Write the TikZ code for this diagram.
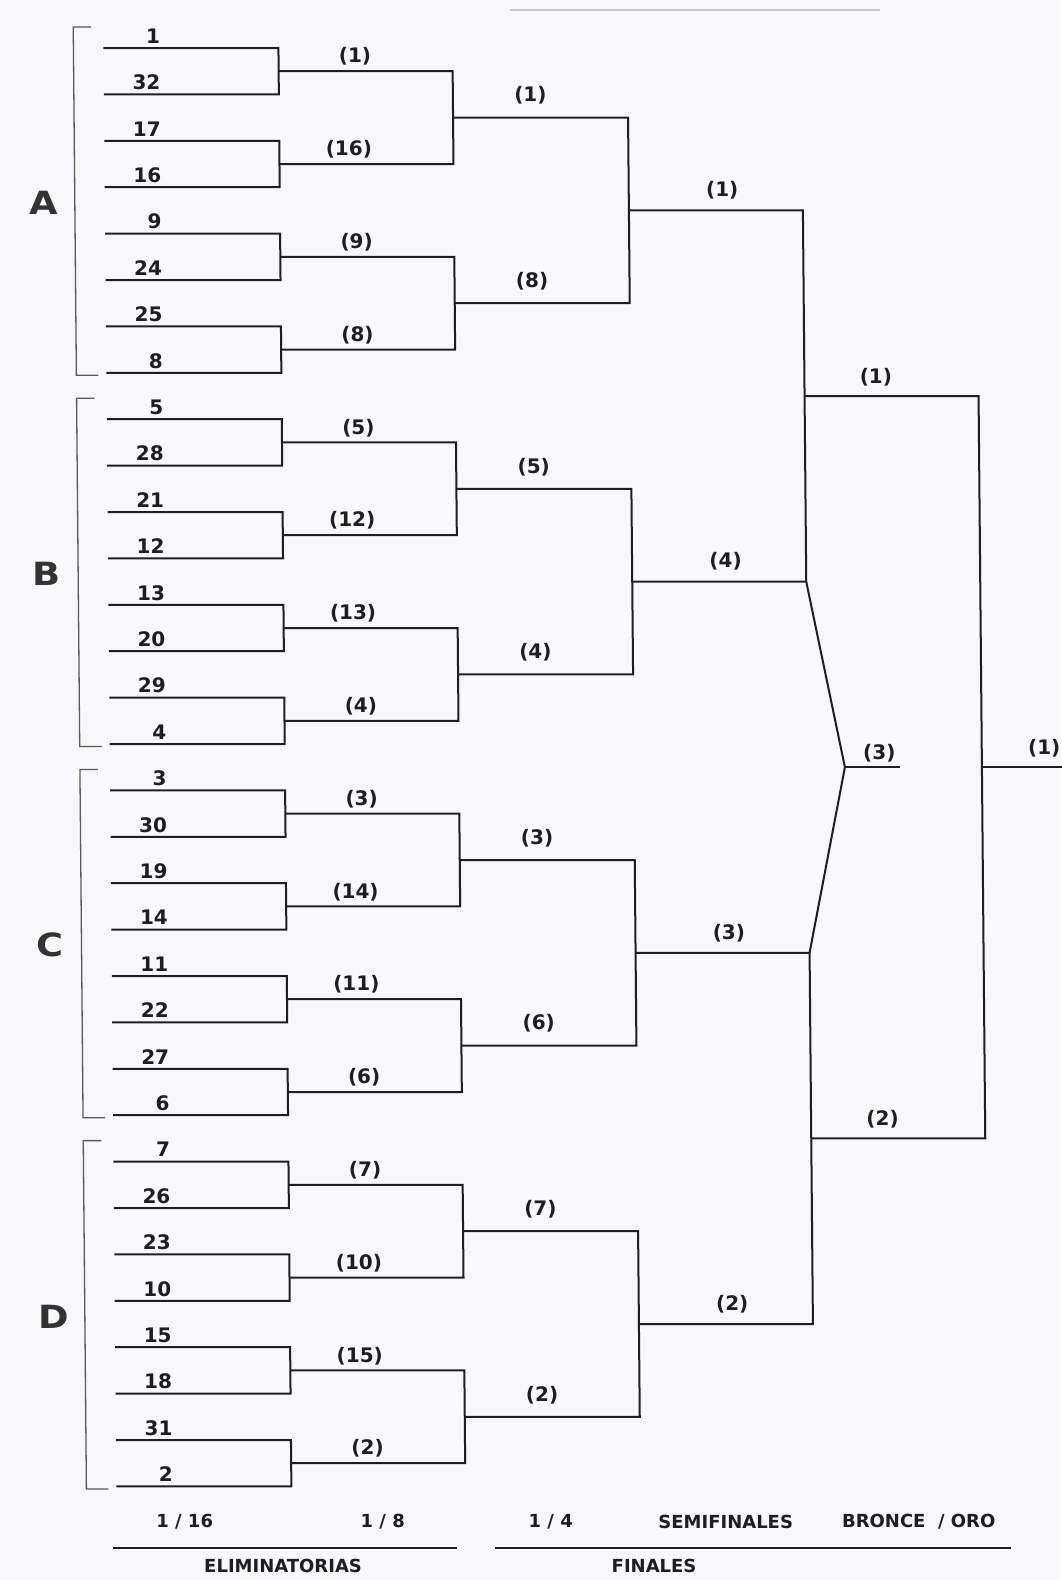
\documentclass[tikz,border=0pt]{standalone}
\usepackage{fontspec}
\setmainfont{DejaVu Sans}
\usepackage{tikz}
\definecolor{paper}{RGB}{248,248,250}
\definecolor{ink}{RGB}{30,30,32}

\begin{document}
\begin{tikzpicture}[x=0.5pt, y=-0.5pt,
    line/.style={line width=1pt, draw=ink},
    grpline/.style={line width=0.65pt, draw=black!65},
    num/.style={font=\bfseries\fontsize{10}{11}\selectfont, text=ink, anchor=east, inner sep=0pt},
    grp/.style={font=\bfseries\fontsize{16}{18}\selectfont, text=black!80, inner sep=0pt},
    foot/.style={font=\bfseries\fontsize{9}{10}\selectfont, text=ink, inner sep=0pt}]
  \path[use as bounding box, fill=paper] (0,0) rectangle (1061,1580);
  \draw[black!22, line width=0.8pt] (510,10) -- (880,10);
  \begin{scope}[xslant=-0.009]
    \foreach \g [count=\k from 0] in {A,B,C,D} {
      \pgfmathsetmacro{\yt}{48+46.4*8*\k-21}
      \pgfmathsetmacro{\yb}{48+46.4*(8*\k+7)+2.5}
      \pgfmathsetmacro{\ym}{48+46.4*(8*\k+3.5)-7.5}
      \coordinate (gt\g) at (73,\yt);
      \coordinate (gb\g) at (73,\yb);
      \draw[grpline] (gt\g) ++(18,0) -- (gt\g) -- (gb\g) -- ++(22,0);
      \node[grp] (g\g) at (41.5,\ym) {\scalebox{1.15}[1]{\g}};
    }
    \foreach \p [count=\i from 0] in {1,32,17,16,9,24,25,8,5,28,21,12,13,20,29,4,3,30,19,14,11,22,27,6,7,26,23,10,15,18,31,2} {
      \pgfmathsetmacro{\y}{48+46.4*\i}
      \coordinate (p\i) at (103,\y);
      \node[num] (n\i) at (160,\y-12) {\p};
    }
    \foreach \w [count=\k from 0] in {1,16,9,8,5,12,13,4,3,14,11,6,7,10,15,2} {
      \pgfmathtruncatemacro{\ia}{2*\k}
      \pgfmathtruncatemacro{\ib}{2*\k+1}
      \pgfmathsetmacro{\y}{48+46.4*(2*\k+0.5)}
      \coordinate (a\k) at (278,\y);
      \draw[line] (p\ia) -| (a\k) |- (p\ib);
      \node[num] (ra\k) at (371,\y-14.5) {(\w)};
    }
    \foreach \w [count=\k from 0] in {1,8,5,4,3,6,7,2} {
      \pgfmathtruncatemacro{\ia}{2*\k}
      \pgfmathtruncatemacro{\ib}{2*\k+1}
      \pgfmathsetmacro{\y}{48+46.4*(4*\k+1.5)}
      \coordinate (b\k) at (452,\y);
      \draw[line] (a\ia) -| (b\k) |- (a\ib);
      \node[num] (rb\k) at (546,\y-22) {(\w)};
    }
    \foreach \w [count=\k from 0] in {1,4,3,2} {
      \pgfmathtruncatemacro{\ia}{2*\k}
      \pgfmathtruncatemacro{\ib}{2*\k+1}
      \pgfmathsetmacro{\y}{48+46.4*(8*\k+3.5)}
      \coordinate (c\k) at (627,\y);
      \draw[line] (b\ia) -| (c\k) |- (b\ib);
      \node[num] (rc\k) at (737,\y-20) {(\w)};
    }
    \foreach \w [count=\k from 0] in {1,2} {
      \pgfmathtruncatemacro{\ia}{2*\k}
      \pgfmathtruncatemacro{\ib}{2*\k+1}
      \pgfmathsetmacro{\y}{48+46.4*(16*\k+7.5)}
      \coordinate (s\k) at (801,\y);
      \draw[line] (c\ia) -| (s\k) |- (c\ib);
      \node[num] (rs\k) at (889,\y-19) {(\w)};
    }
    \coordinate (bz) at (838,767.2);
    \coordinate (bze) at (893,767.2);
    \draw[line] (c1 -| s0) -- (bz) -- (c2 -| s1);
    \draw[line] (bz) -- (bze);
    \node[num] (rbz) at (889,753) {(3)};
    \coordinate (f) at (975,767.2);
    \coordinate (fe) at (1061,767.2);
    \draw[line] (s0) -| (f) |- (s1);
    \draw[line] (f) -- (fe);
    \node[num] (rf) at (1054,748) {(1)};
    \node[foot] (r16) at (171,1522) {1 / 16};
    \node[foot] (r8) at (369,1522) {1 / 8};
    \node[foot] (r4) at (537,1522) {1 / 4};
    \node[foot] (rsf) at (712,1522) {SEMIFINALES};
    \node[foot] (rbo) at (905,1522) {BRONCE \ / ORO};
    \coordinate (el) at (99,1548);
    \coordinate (er) at (443,1548);
    \coordinate (fl) at (481,1548);
    \coordinate (fr) at (997,1548);
    \draw[line, line width=0.8pt] (el) -- (er);
    \draw[line, line width=0.8pt] (fl) -- (fr);
    \node[foot] (elim) at (269,1566) {ELIMINATORIAS};
    \node[foot] (fin) at (640,1566) {FINALES};
  \end{scope}
\end{tikzpicture}
\end{document}
